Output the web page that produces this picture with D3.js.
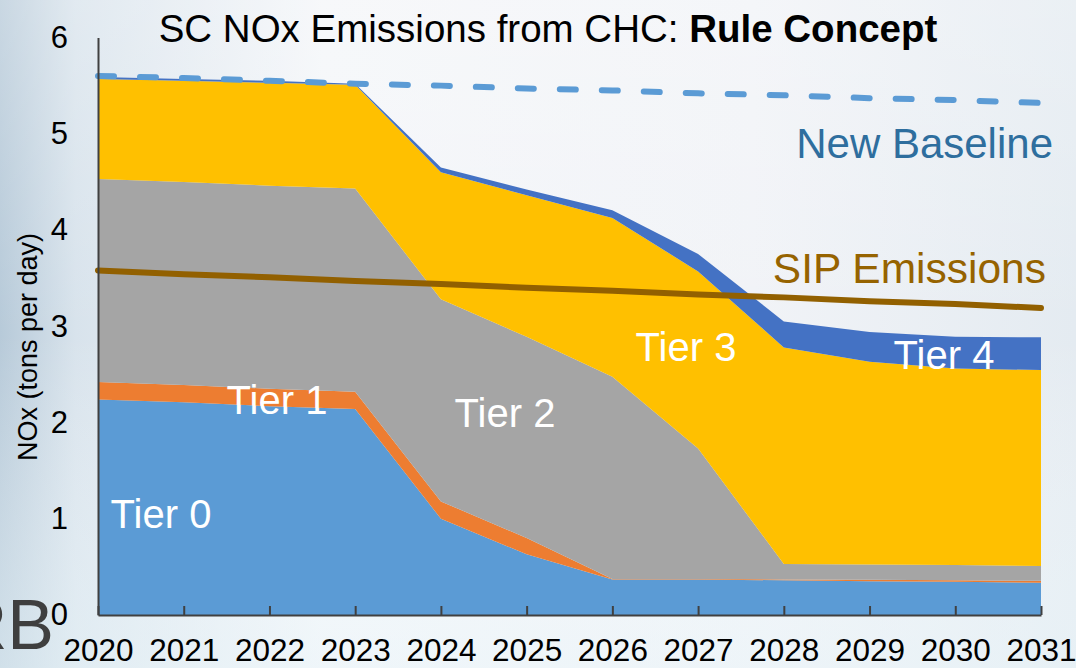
<!DOCTYPE html>
<html>
<head>
<meta charset="utf-8">
<script src="https://cdn.jsdelivr.net/npm/d3@7"></script>
<style>
body { margin: 0; padding: 0; overflow: hidden; }
svg { display: block; font-family: "Liberation Sans", Arial, sans-serif; }
.tick text { font-family: "Liberation Sans", Arial, sans-serif; }
</style>
</head>
<body>
<div id="chart"></div>
<script>
// data (tons per day)
var years = [2020, 2021, 2022, 2023, 2024, 2025, 2026, 2027, 2028, 2029, 2030, 2031];
var tiers = ["Tier 0", "Tier 1", "Tier 2", "Tier 3", "Tier 4"];
var tier0 = [2.24, 2.21, 2.17, 2.14, 1.00, 0.63, 0.37, 0.37, 0.36, 0.35, 0.345, 0.335];
var tier1 = [0.18, 0.18, 0.18, 0.18, 0.18, 0.17, 0.005, 0.005, 0.01, 0.015, 0.015, 0.02];
var tier2 = [2.11, 2.11, 2.11, 2.11, 2.10, 2.09, 2.10, 1.355, 0.16, 0.16, 0.16, 0.155];
var tier3 = [1.04, 1.05, 1.07, 1.08, 1.32, 1.47, 1.65, 1.84, 2.25, 2.105, 2.04, 2.035];
var tier4 = [0.02, 0.02, 0.02, 0.01, 0.05, 0.06, 0.08, 0.18, 0.27, 0.31, 0.33, 0.34];
var baseline = [5.60, 5.58, 5.55, 5.52, 5.50, 5.47, 5.45, 5.42, 5.40, 5.37, 5.35, 5.32];
var sip = [3.58, 3.54, 3.51, 3.47, 3.44, 3.40, 3.37, 3.33, 3.30, 3.26, 3.23, 3.19];
var yTicks = [0, 1, 2, 3, 4, 5, 6];

var colors = ["#5b9bd5", "#ed7d31", "#a5a5a5", "#ffc000", "#4472c4"];

var width = 1076;
var height = 668;

var svg = d3.select("#chart")
  .append("svg")
  .attr("width", width)
  .attr("height", height);

// slide background
var defs = svg.append("defs");
var grad = defs.append("linearGradient")
  .attr("id", "bg")
  .attr("x1", "0").attr("y1", "0").attr("x2", "1").attr("y2", "0");
grad.append("stop").attr("offset", "0").attr("stop-color", "#b7cad9");
grad.append("stop").attr("offset", "0.07").attr("stop-color", "#d8e3ec");
grad.append("stop").attr("offset", "0.3").attr("stop-color", "#f4f6f9");
grad.append("stop").attr("offset", "0.7").attr("stop-color", "#f1f3f7");
grad.append("stop").attr("offset", "1").attr("stop-color", "#e4ebf1");

var grad2 = defs.append("linearGradient")
  .attr("id", "bg2")
  .attr("x1", "0").attr("y1", "0").attr("x2", "0").attr("y2", "1");
grad2.append("stop").attr("offset", "0").attr("stop-color", "#ffffff").attr("stop-opacity", 0.25);
grad2.append("stop").attr("offset", "0.5").attr("stop-color", "#ffffff").attr("stop-opacity", 0);
grad2.append("stop").attr("offset", "1").attr("stop-color", "#eaf6fa").attr("stop-opacity", 0.5);

svg.append("rect").attr("width", width).attr("height", height).attr("fill", "url(#bg)");
svg.append("rect").attr("width", width).attr("height", height).attr("fill", "url(#bg2)");

// partial logo text at the bottom left
svg.append("text")
  .attr("x", 54)
  .attr("y", 649)
  .attr("text-anchor", "end")
  .attr("fill", "#3f3f3f")
  .style("font-size", "70px")
  .text("RB");

var x = d3.scaleLinear().domain([2020, 2031]).range([98, 1041]);
var y = d3.scaleLinear().domain([0, 6]).range([615, 37.5]);

// stacked areas
var rows = years.map(function(yr, i) {
  return { year: yr, "Tier 0": tier0[i], "Tier 1": tier1[i], "Tier 2": tier2[i], "Tier 3": tier3[i], "Tier 4": tier4[i] };
});
var stacked = d3.stack().keys(tiers)(rows);

var area = d3.area()
  .x(function(d) { return x(d.data.year); })
  .y0(function(d) { return y(d[0]); })
  .y1(function(d) { return y(d[1]); });

svg.append("g")
  .selectAll("path")
  .data(stacked)
  .enter()
  .append("path")
  .attr("fill", function(d, i) { return colors[i]; })
  .attr("d", area);

// lines
var line = d3.line()
  .x(function(d, i) { return x(years[i]); })
  .y(function(d) { return y(d); });

svg.append("path")
  .datum(baseline)
  .attr("fill", "none")
  .attr("stroke", "#5b9bd5")
  .attr("stroke-width", 6)
  .attr("stroke-linecap", "round")
  .attr("stroke-dasharray", "16,26")
  .attr("d", line);

svg.append("path")
  .datum(sip)
  .attr("fill", "none")
  .attr("stroke", "#926000")
  .attr("stroke-width", 6)
  .attr("stroke-linecap", "round")
  .attr("d", line);

// axes
var xAxis = svg.append("g")
  .attr("transform", "translate(0," + y(0) + ")")
  .call(d3.axisBottom(x)
    .tickValues(years)
    .tickFormat(d3.format("d"))
    .tickSizeInner(-9)
    .tickSizeOuter(0)
    .tickPadding(24));
xAxis.select(".domain").attr("stroke", "#404040").attr("stroke-width", 2);
xAxis.selectAll(".tick line").attr("stroke", "#404040").attr("stroke-width", 2);
xAxis.selectAll(".tick text")
  .attr("fill", "#000")
  .style("font-size", "31.5px");

var yAxis = svg.append("g")
  .attr("transform", "translate(" + x(2020) + ",0)")
  .call(d3.axisLeft(y)
    .tickValues(yTicks)
    .tickFormat(d3.format("d"))
    .tickSize(0)
    .tickPadding(30));
yAxis.select(".domain").attr("stroke", "#404040").attr("stroke-width", 2);
yAxis.selectAll(".tick text")
  .attr("fill", "#000")
  .style("font-size", "31px");

svg.append("text")
  .attr("transform", "translate(37,347) rotate(-90)")
  .attr("text-anchor", "middle")
  .attr("fill", "#000")
  .style("font-size", "27px")
  .text("NOx (tons per day)");

// title
var title = svg.append("text")
  .attr("x", 548)
  .attr("y", 42)
  .attr("text-anchor", "middle")
  .attr("fill", "#000")
  .style("font-size", "38.5px");
title.append("tspan").text("SC NOx Emissions from CHC: ");
title.append("tspan").style("font-weight", "bold").text("Rule Concept");

// tier labels
var labels = [
  { t: "Tier 0", x: 161, y: 528 },
  { t: "Tier 1", x: 277, y: 414 },
  { t: "Tier 2", x: 505, y: 427 },
  { t: "Tier 3", x: 686, y: 361 },
  { t: "Tier 4", x: 944, y: 369 }
];
svg.append("g")
  .selectAll("text")
  .data(labels)
  .enter()
  .append("text")
  .attr("x", function(d) { return d.x; })
  .attr("y", function(d) { return d.y; })
  .attr("text-anchor", "middle")
  .attr("fill", "#fff")
  .style("font-size", "40px")
  .text(function(d) { return d.t; });

svg.append("text")
  .attr("x", 1053)
  .attr("y", 158)
  .attr("text-anchor", "end")
  .attr("fill", "#2e6e9e")
  .style("font-size", "42px")
  .text("New Baseline");

svg.append("text")
  .attr("x", 1046)
  .attr("y", 283)
  .attr("text-anchor", "end")
  .attr("fill", "#966300")
  .style("font-size", "42.5px")
  .text("SIP Emissions");
</script>
</body>
</html>
